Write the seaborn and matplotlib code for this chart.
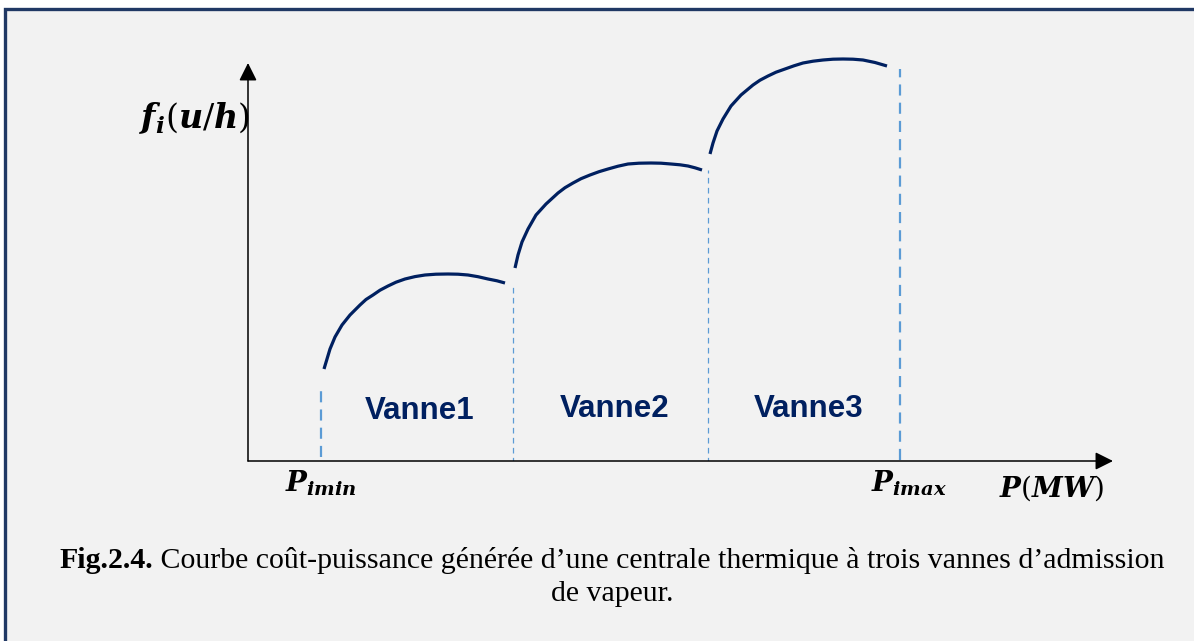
import matplotlib
matplotlib.use("Agg")
import matplotlib.pyplot as plt
import numpy as np
import pandas as pd
import seaborn as sns
from matplotlib.patches import Rectangle

# arc samples (P units, cost units)
vanne1_p = [76, 79, 82, 87, 94, 102, 112, 118, 125, 132, 140, 148, 157, 167, 177, 188,
            200, 210, 220, 230, 240, 249, 257]
vanne1_f = [92, 102, 112, 124, 136, 146, 156, 161.5, 166, 170.8, 175, 178.8, 182, 184.4,
            186, 186.8, 187, 186.8, 186, 184.3, 182, 180.2, 178]
vanne2_p = [267, 270, 274, 280, 288, 298, 310, 317, 325, 333, 342, 351, 360, 370, 380, 391,
            403, 413, 423, 432, 440, 447, 454]
vanne2_f = [193, 206, 219, 232, 246, 257, 268, 273.3, 278, 282.3, 286, 289.3, 292, 294.8,
            297, 297.8, 298, 297.8, 297, 296.2, 295, 293.2, 291]
vanne3_p = [462, 465, 469, 475, 483, 493, 505, 512, 520, 528, 537, 546, 555, 565, 575, 585,
            595, 605, 615, 627, 639]
vanne3_f = [307, 318, 330, 342, 355, 366, 376, 380.8, 385, 388.8, 392, 395.2, 398, 399.8,
            401, 401.8, 402, 401.8, 401, 398.5, 395]

vanne_labels = ["Vanne1", "Vanne2", "Vanne3"]
vanne_label_p = [172, 367, 561]
vanne_label_f = [50, 52, 52]

# dashed boundaries: Pimin, valve points, Pimax
bound_p = [73, 265, 460, 652]
bound_low = [4, -2, -2, 1]
bound_top = [71, 178, 291, 392]
bound_major = [True, False, False, True]

p_axis_end = 865
f_axis_end = 398

NAVY = "#002060"
DASH = "#5b9bd5"

sns.set_style("white")
plt.rcParams["text.color"] = "black"
plt.rcParams["mathtext.fontset"] = "custom"
plt.rcParams["mathtext.rm"] = "DejaVu Serif"
plt.rcParams["mathtext.it"] = "DejaVu Serif:italic:bold"
plt.rcParams["mathtext.bf"] = "DejaVu Serif:bold"

W, H = 1194, 641
fig = plt.figure(figsize=(W / 100, H / 100), dpi=100)
fig.patch.set_facecolor("white")

# framed grey panel
fig.patches.append(Rectangle((5 / W, -0.05), 1.1, 1 - 9 / H + 0.05, transform=fig.transFigure,
                             facecolor="#f2f2f2", edgecolor="#203864", linewidth=2.4, zorder=-5))

ax = fig.add_axes([248 / W, (H - 461) / H, 877 / W, 411 / H])
ax.set_xlim(0, 877)
ax.set_ylim(0, 411)
ax.set_facecolor("none")
for s in ax.spines.values():
    s.set_visible(False)
ax.set_xticks([])
ax.set_yticks([])

arcs = pd.concat([
    pd.DataFrame({"P": vanne1_p, "F": vanne1_f, "vanne": "Vanne1"}),
    pd.DataFrame({"P": vanne2_p, "F": vanne2_f, "vanne": "Vanne2"}),
    pd.DataFrame({"P": vanne3_p, "F": vanne3_f, "vanne": "Vanne3"}),
])
sns.lineplot(data=arcs, x="P", y="F", units="vanne", estimator=None, sort=False,
             color=NAVY, linewidth=2.3, ax=ax, solid_capstyle="butt",
             solid_joinstyle="round")
ax.set_xlabel("")
ax.set_ylabel("")

for p, lo, hi, major in zip(bound_p, bound_low, bound_top, bound_major):
    if major:
        ax.plot([p, p], [lo, hi], color=DASH, lw=1.6, dashes=(5, 3.2))
    else:
        ax.plot([p, p], [lo, hi], color=DASH, lw=0.9, dashes=(4.5, 3.5))

arrow = dict(arrowstyle="-|>", mutation_scale=27, lw=1.1, color="black",
             shrinkA=0, shrinkB=0)
ax.annotate("", xy=(p_axis_end, 0), xytext=(0, 0), arrowprops=arrow, annotation_clip=False)
ax.annotate("", xy=(0, f_axis_end), xytext=(0, 0), arrowprops=arrow, annotation_clip=False)

for lab, p, f in zip(vanne_labels, vanne_label_p, vanne_label_f):
    ax.text(p, f, lab, ha="center", va="center", color=NAVY, fontsize=22.5,
            fontweight="bold", family="Liberation Sans")

ax.text(2, 343, r"$f_i(u/h)$", ha="right", va="center", fontsize=24)
ax.text(73, -22, r"$P_{imin}$", ha="center", va="center", fontsize=20)
ax.text(661, -22, r"$P_{imax}$", ha="center", va="center", fontsize=20)
ax.text(803, -27, r"$P(MW)$", ha="center", va="center", fontsize=20)

# caption: bold figure number followed by regular text, centred as one line
renderer = fig.canvas.get_renderer()
cap_y1 = (H - 561) / H
bold = fig.text(0, cap_y1, "Fig.2.4.", fontsize=21.5, fontweight="bold",
                family="Liberation Serif", va="center")
rest = fig.text(0, cap_y1, " Courbe coût-puissance générée d\u2019une centrale thermique "
                "à trois vannes d\u2019admission", fontsize=21.5, family="Liberation Serif",
                va="center")
wb = bold.get_window_extent(renderer).width
wr = rest.get_window_extent(renderer).width
x0 = (612 - (wb + wr) / 2) / W
bold.set_x(x0)
rest.set_x(x0 + wb / W)
fig.text(612 / W, (H - 594) / H, "de vapeur.", fontsize=21.5, family="Liberation Serif",
         ha="center", va="center")

fig.savefig("out.png", dpi=100)
